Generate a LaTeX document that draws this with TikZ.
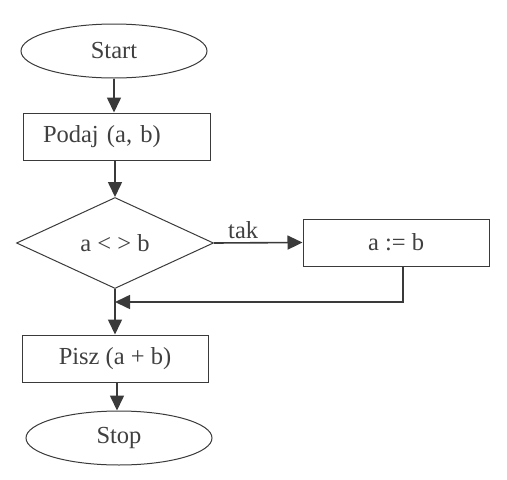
\documentclass[tikz,border=0pt]{standalone}
\usepackage{fontspec}
\setmainfont{Liberation Serif}
\usetikzlibrary{shapes.geometric,arrows.meta}
\definecolor{linia}{HTML}{3A3A3A}
\definecolor{tekst}{HTML}{404040}

\begin{document}
\begin{tikzpicture}[x=1pt, y=-1pt, line width=1pt, draw=linia, text=tekst,
	font=\fontsize{24.5}{28}\selectfont,
	term/.style={ellipse, draw=linia, minimum width=186pt, minimum height=54pt, inner sep=0pt},
	proc/.style={rectangle, draw=linia, minimum width=186pt, minimum height=47pt, inner sep=0pt},
	decyzja/.style={diamond, draw=linia, aspect=2.16, minimum width=197pt, minimum height=91pt, inner sep=0pt},
	flow/.style={draw=linia, line width=1.6pt, -{Triangle[length=15pt, width=14pt]}}]

\useasboundingbox (0,0) rectangle (507,480);

%Bloki
\node[term] (start) at (114,51) {Start};
\node[proc, text width=147pt, inner xsep=20pt, align=left] (podaj) at (116.5,136.5) {Podaj (a, b)};
\node[decyzja] (war) at (115,243) {a < > b};
\node[proc] (przyp) at (396,242.5) {a := b};
\node[proc] (pisz) at (115,358.5) {Pisz (a + b)};
\node[term] (stop) at (119,438) {Stop};

%Strzalki
\draw[flow] (start.south) -- (start.south |- podaj.north);
\draw[flow] (podaj.south -| war.north) -- (war.north);
\draw[flow] (war.east) -- node[above, pos=0.33, text=tekst] {tak} (przyp.west);
\coordinate (powrot) at (war.south |- 0,302);
\draw[flow] ([xshift=7pt]przyp.south) |- (powrot);
\draw[flow] (war.south) -- (pisz.north);
\draw[flow] ([xshift=2pt]pisz.south) -- ([xshift=2pt]pisz.south |- stop.north);

\end{tikzpicture}
\end{document}
